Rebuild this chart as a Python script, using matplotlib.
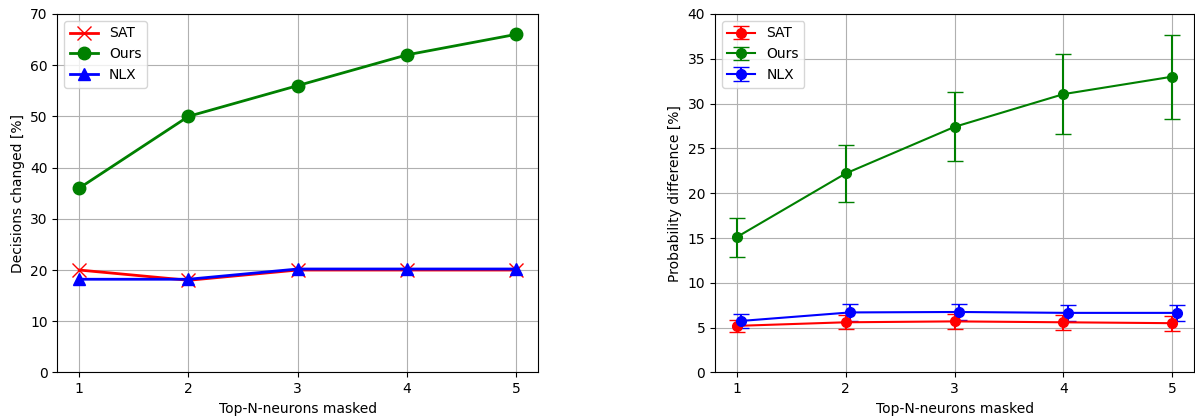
import numpy as np
import matplotlib
matplotlib.use('Agg')
import matplotlib.pyplot as plt

# top-N neurons masked
n_masked = [1, 2, 3, 4, 5]

# left panel: decisions changed [%]
sat_changed = [20, 18, 20, 20, 20]
ours_changed = [36, 50, 56, 62, 66]
nlx_changed = [18.2, 18.2, 20.2, 20.2, 20.2]

# right panel: probability difference [%] (mean, std)
sat_prob = [5.2, 5.6, 5.7, 5.6, 5.5]
sat_err = [0.7, 0.8, 0.83, 0.86, 0.83]
ours_prob = [15.1, 22.2, 27.4, 31.05, 33.0]
ours_err = [2.18, 3.13, 3.85, 4.46, 4.7]
nlx_prob = [5.75, 6.7, 6.75, 6.65, 6.65]
nlx_err = [0.76, 0.92, 0.92, 0.9, 0.9]

fig = plt.figure(figsize=(11.95, 4.16), dpi=100)
ax1 = fig.add_axes([0.0481, 0.1046, 0.402, 0.862])
ax2 = fig.add_axes([0.5983, 0.1046, 0.401, 0.862])

ax1.plot(n_masked, sat_changed, 'x-', color='red', lw=2, ms=10, label='SAT')
ax1.plot(n_masked, ours_changed, 'o-', color='green', lw=2, ms=9, label='Ours')
ax1.plot(n_masked, nlx_changed, '^-', color='blue', lw=2, ms=9, label='NLX')
ax1.set_ylim(0, 70)
ax1.set_xticks(n_masked)
ax1.set_xlabel('Top-N-neurons masked')
ax1.set_ylabel('Decisions changed [%]')
ax1.grid(True)
ax1.legend(loc='upper left')

x = np.array(n_masked)
ax2.errorbar(x, sat_prob, yerr=sat_err, fmt='o-', color='red', lw=1.5, ms=7, capsize=6, label='SAT')
ax2.errorbar(x, ours_prob, yerr=ours_err, fmt='o-', color='green', lw=1.5, ms=7, capsize=6, label='Ours')
ax2.errorbar(x + 0.04, nlx_prob, yerr=nlx_err, fmt='o-', color='blue', lw=1.5, ms=7, capsize=6, label='NLX')
ax2.set_xlim(0.8, 5.2)
ax2.set_ylim(0, 40)
ax2.set_xticks(n_masked)
ax2.set_xlabel('Top-N-neurons masked')
ax2.set_ylabel('Probability difference [%]')
ax2.grid(True)
ax2.legend(loc='upper left')

fig.savefig('out.png', dpi=100)
